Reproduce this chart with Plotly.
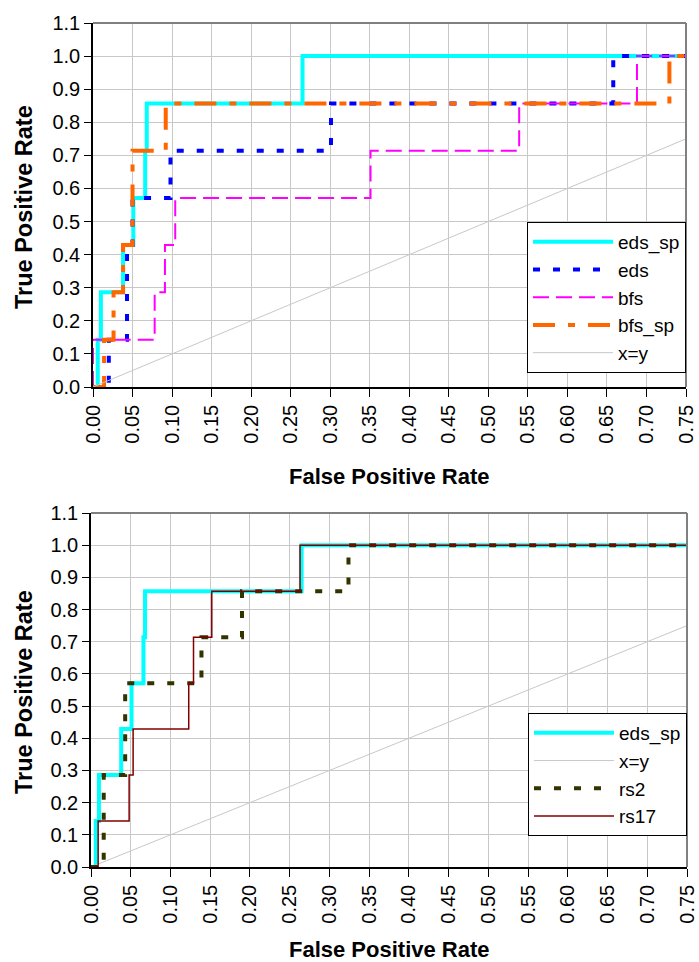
import plotly.graph_objects as go

# ---------------- data (FPR, TPR step points, 'hv' steps) ----------------
eds_sp_x = [0, 0.006, 0.010, 0.038, 0.051, 0.066, 0.068, 0.265, 0.75]
eds_sp_y = [0, 0.143, 0.286, 0.429, 0.571, 0.714, 0.857, 1.0, 1.0]

eds_x = [0, 0.020, 0.043, 0.050, 0.098, 0.301, 0.658, 0.75]
eds_y = [0, 0.143, 0.429, 0.571, 0.714, 0.857, 1.0, 1.0]

bfs_x = [0, 0, 0.078, 0.091, 0.104, 0.351, 0.539, 0.688, 0.75]
bfs_y = [0, 0.143, 0.286, 0.429, 0.571, 0.714, 0.857, 1.0, 1.0]

bfs_sp_x = [0, 0.014, 0.026, 0.038, 0.050, 0.092, 0.729, 0.75]
bfs_sp_y = [0, 0.143, 0.286, 0.429, 0.714, 0.857, 1.0, 1.0]

xy_x = [0, 0.75]
xy_y = [0, 0.75]

rs2_x = [0, 0.016, 0.043, 0.139, 0.190, 0.324, 0.75]
rs2_y = [0, 0.286, 0.571, 0.714, 0.857, 1.0, 1.0]

rs17_x = [0, 0.009, 0.048, 0.053, 0.123, 0.129, 0.152, 0.263, 0.75]
rs17_y = [0, 0.143, 0.286, 0.429, 0.571, 0.714, 0.857, 1.0, 1.0]

x_title = "False Positive Rate"
y_title = "True Positive Rate"

FONT = "Arial, 'Liberation Sans', sans-serif"
W, H = 699, 962

fig = go.Figure()

def add(x, y, name, color, width, dash, xa, ya, legend):
    fig.add_trace(go.Scatter(
        x=x, y=y, name=name, mode="lines", line_shape="hv",
        line=dict(color=color, width=width, dash=dash),
        xaxis=xa, yaxis=ya, legend=legend))

# top chart
add(eds_sp_x, eds_sp_y, "eds_sp", "#00FFFF", 4, "solid", "x", "y", "legend")
add(eds_x, eds_y, "eds", "#0000FF", 4, "7px,13px", "x", "y", "legend")
add(bfs_x, bfs_y, "bfs", "#FF00FF", 2, "16px,7px", "x", "y", "legend")
add(bfs_sp_x, bfs_sp_y, "bfs_sp", "#FF6600", 4, "22px,13px,7px,13px", "x", "y", "legend")
fig.add_trace(go.Scatter(x=xy_x, y=xy_y, name="x=y", mode="lines",
                         line=dict(color="#C8C8C8", width=1), xaxis="x", yaxis="y", legend="legend"))

# bottom chart
add(eds_sp_x, eds_sp_y, "eds_sp", "#00FFFF", 4, "solid", "x2", "y2", "legend2")
fig.add_trace(go.Scatter(x=xy_x, y=xy_y, name="x=y", mode="lines",
                         line=dict(color="#C8C8C8", width=1), xaxis="x2", yaxis="y2", legend="legend2"))
add(rs2_x, rs2_y, "rs2", "#333300", 4, "7px,13px", "x2", "y2", "legend2")
add(rs17_x, rs17_y, "rs17", "#800000", 1.5, "solid", "x2", "y2", "legend2")

top = (93, 686, 23, 387)
bot = (91, 687, 513, 867)

def xdom(b):
    return [b[0] / W, b[1] / W]

def ydom(b):
    return [1 - b[3] / H, 1 - b[2] / H]

xcommon = dict(range=[0, 0.75], dtick=0.05, tick0=0, tickformat=".2f", tickangle=-90,
               showgrid=True, gridcolor="#C8C8C8", gridwidth=1, zeroline=False,
               showline=True, linecolor="black", linewidth=1.5, automargin=False,
               ticks="outside", ticklen=8, tickcolor="black", tickwidth=1,
               tickfont=dict(family=FONT, size=20, color="black"), fixedrange=True)
ycommon = dict(range=[0, 1.1], dtick=0.1, tick0=0, tickformat=".1f",
               showgrid=True, gridcolor="#C8C8C8", gridwidth=1, zeroline=False,
               showline=True, linecolor="black", linewidth=1.5, automargin=False,
               ticks="outside", ticklen=7, tickcolor="black", tickwidth=1,
               tickfont=dict(family=FONT, size=20, color="black"), fixedrange=True)

legcommon = dict(bgcolor="white", bordercolor="black", borderwidth=1,
                 font=dict(family=FONT, size=19, color="black"),
                 xanchor="right", yanchor="top", itemwidth=80, tracegroupgap=0)

fig.update_layout(
    width=W, height=H, margin=dict(l=0, r=0, t=0, b=0, autoexpand=False),
    paper_bgcolor="white", plot_bgcolor="white",
    xaxis=dict(domain=xdom(top), anchor="y", **xcommon),
    yaxis=dict(domain=ydom(top), anchor="x", **ycommon),
    xaxis2=dict(domain=xdom(bot), anchor="y2", **xcommon),
    yaxis2=dict(domain=ydom(bot), anchor="x2", **ycommon),
    legend=dict(x=686 / W, y=1 - 222 / H, **legcommon),
    legend2=dict(x=687 / W, y=1 - 713 / H, **legcommon),
)

# gray frame on top/right edges
for xr, yr in (("x domain", "y domain"), ("x2 domain", "y2 domain")):
    fig.add_shape(type="line", xref=xr, yref=yr, x0=0, x1=1, y0=1, y1=1,
                  line=dict(color="#808080", width=2), layer="above")
    fig.add_shape(type="line", xref=xr, yref=yr, x0=1, x1=1, y0=0, y1=1,
                  line=dict(color="#808080", width=2), layer="above")

# axis titles
for b, xt_y in ((top, 476), (bot, 949)):
    fig.add_annotation(text="<b>%s</b>" % x_title, xref="paper", yref="paper",
                       x=(b[0] + b[1]) / 2 / W, y=1 - xt_y / H, showarrow=False,
                       xanchor="center", yanchor="middle", height=24, valign="middle",
                       font=dict(family=FONT, size=22, color="black"))
    fig.add_annotation(text="<b>%s</b>" % y_title, xref="paper", yref="paper",
                       x=24 / W, y=1 - ((b[2] + b[3]) / 2 + 2) / H, showarrow=False,
                       textangle=-90, xanchor="center", yanchor="middle",
                       font=dict(family=FONT, size=23.5, color="black"))

fig.write_html("out.html")
